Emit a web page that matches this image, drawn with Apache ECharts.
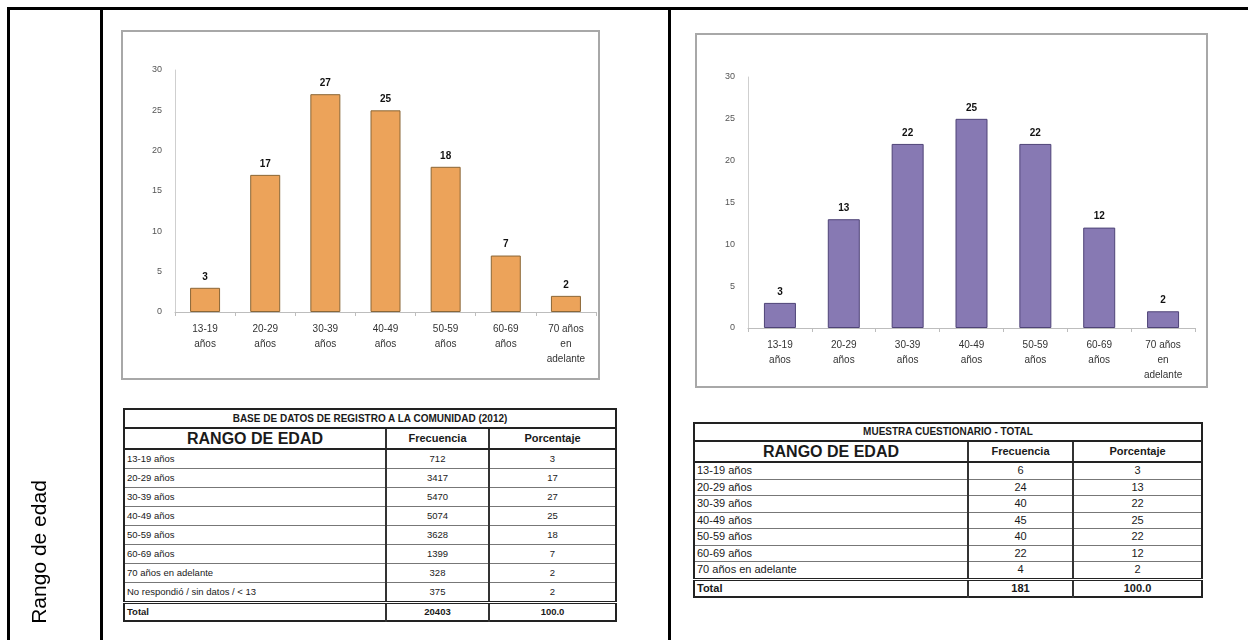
<!DOCTYPE html>
<html>
<head>
<meta charset="utf-8">
<script src="https://cdn.jsdelivr.net/npm/echarts@6/dist/echarts.min.js"></script>
<style>
  html, body { margin: 0; padding: 0; background: #fff; }
  #chart { position: absolute; left: 0; top: 0; width: 1248px; height: 640px; }
  .tbl {
    position: absolute; border-collapse: collapse; table-layout: fixed;
    font-family: "Liberation Sans", Arial, sans-serif; color: #1a1a1a;
    border: 2px solid #222; background: #fff;
  }
  .tbl td { padding: 0 2px; border: 1px solid #777; overflow: hidden; white-space: nowrap; line-height: 1; }
  .tbl td.c { text-align: center; }
  .tbl tr.title td { font-weight: bold; text-align: center; border-bottom: 2px solid #222; }
  .tbl tr.head td { font-weight: bold; text-align: center; border-bottom: 2px solid #222; }
  .tbl tr.total td { font-weight: bold; border-top: 3px double #222; }
  .tbl td.sep { border-right: 2px solid #333; }
</style>
</head>
<body>
<div id="chart"></div>
<script>
// Age ranges (axis labels and table labels)
const axisCategories = ['13-19\naños', '20-29\naños', '30-39\naños', '40-49\naños', '50-59\naños', '60-69\naños', '70 años\nen\nadelante'];
const tableCategories = ['13-19 años', '20-29 años', '30-39 años', '40-49 años', '50-59 años', '60-69 años', '70 años en adelante'];
const yTicks = [0, 5, 10, 15, 20, 25, 30];

// Base de datos de registro a la comunidad (2012)
const registroFreq = [712, 3417, 5470, 5074, 3628, 1399, 328];
const registroPct = [3, 17, 27, 25, 18, 7, 2];
const registroExtraLabel = 'No respondió / sin datos / < 13';
const registroExtraFreq = 375;
const registroExtraPct = 2;
const registroTotalFreq = 20403;

// Muestra cuestionario - total
const muestraFreq = [6, 24, 40, 45, 40, 22, 4];
const muestraPct = [3, 13, 22, 25, 22, 12, 2];
const muestraTotalFreq = 181;

const totalPctText = '100.0';
const FONT = '"Liberation Sans", Arial, sans-serif';

const chart = echarts.init(document.getElementById('chart'), null, { renderer: 'canvas' });

function xAxisFor(gridIndex) {
  return {
    type: 'category', gridIndex: gridIndex, data: axisCategories,
    axisLine: { lineStyle: { color: '#bdbdbd', width: 1 } },
    axisTick: { show: true, length: 4, lineStyle: { color: '#bdbdbd' } },
    axisLabel: { interval: 0, color: '#333', fontSize: 10, lineHeight: 15, margin: 10, fontFamily: FONT }
  };
}
function yAxisFor(gridIndex) {
  return {
    type: 'value', gridIndex: gridIndex,
    min: yTicks[0], max: yTicks[yTicks.length - 1], interval: yTicks[1] - yTicks[0],
    axisLine: { show: true, lineStyle: { color: '#cfcfcf', width: 1 } },
    axisTick: { show: false },
    splitLine: { show: false },
    axisLabel: { color: '#555', fontSize: 9, margin: 13, fontFamily: FONT }
  };
}
function barSeries(idx, data, color, border, width) {
  return {
    type: 'bar', xAxisIndex: idx, yAxisIndex: idx, data: data, barWidth: width,
    itemStyle: { color: color, borderColor: border, borderWidth: 1 },
    label: { show: true, position: 'top', distance: 6, color: '#111', fontWeight: 'bold', fontSize: 10, fontFamily: FONT },
    silent: true, animation: false
  };
}

const outer = [
  { type: 'rect', shape: { x: 7, y: 7, width: 1241, height: 3 }, style: { fill: '#000' } },
  { type: 'rect', shape: { x: 7, y: 7, width: 3, height: 633 }, style: { fill: '#000' } },
  { type: 'rect', shape: { x: 100, y: 7, width: 3, height: 633 }, style: { fill: '#000' } },
  { type: 'rect', shape: { x: 668, y: 7, width: 3, height: 633 }, style: { fill: '#000' } },
  { type: 'rect', shape: { x: 122, y: 31, width: 477, height: 348 }, style: { fill: 'none', stroke: '#a8a8a8', lineWidth: 2 } },
  { type: 'rect', shape: { x: 696, y: 34, width: 511, height: 353 }, style: { fill: 'none', stroke: '#a8a8a8', lineWidth: 2 } },
  { type: 'text', x: 40, y: 552, rotation: Math.PI / 2,
    style: { text: 'Rango de edad', font: '21px ' + FONT, fill: '#000', align: 'center', verticalAlign: 'middle' } }
];

chart.setOption({
  animation: false,
  backgroundColor: '#fff',
  grid: [
    { left: 175, top: 70, width: 421, height: 242 },
    { left: 748, top: 77, width: 447, height: 251 }
  ],
  xAxis: [xAxisFor(0), xAxisFor(1)],
  yAxis: [yAxisFor(0), yAxisFor(1)],
  series: [
    barSeries(0, registroPct, '#ECA35A', '#8a6636', 30),
    barSeries(1, muestraPct, '#8779B3', '#4e4377', 32)
  ],
  graphic: outer
});

// Frequency tables
function buildTable(cfg) {
  const t = document.createElement('table');
  t.className = 'tbl';
  t.style.left = cfg.left + 'px';
  t.style.top = cfg.top + 'px';
  t.style.width = cfg.widths.reduce((a, b) => a + b, 0) + 'px';
  let html = '<colgroup>' + cfg.widths.map(w => '<col style="width:' + w + 'px">').join('') + '</colgroup>';
  html += '<tr class="title"><td colspan="3" style="height:' + cfg.titleH + 'px;font-size:' + cfg.titleFs + 'px">' + cfg.title + '</td></tr>';
  html += '<tr class="head"><td class="sep" style="height:' + cfg.headH + 'px;font-size:16px">RANGO DE EDAD</td>' +
          '<td class="sep" style="font-size:' + cfg.headFs + 'px">Frecuencia</td><td style="font-size:' + cfg.headFs + 'px">Porcentaje</td></tr>';
  cfg.rows.forEach(r => {
    html += '<tr style="font-size:' + cfg.rowFs + 'px"><td class="sep" style="height:' + cfg.rowH + 'px">' + r[0] + '</td>' +
            '<td class="c sep">' + r[1] + '</td><td class="c">' + r[2] + '</td></tr>';
  });
  html += '<tr class="total" style="font-size:' + cfg.rowFs + 'px"><td class="sep" style="height:' + cfg.totalH + 'px">Total</td>' +
          '<td class="c sep">' + cfg.total[0] + '</td><td class="c">' + cfg.total[1] + '</td></tr>';
  t.innerHTML = html;
  document.body.appendChild(t);
}

const registroRows = tableCategories.map((c, i) => [c, registroFreq[i], registroPct[i]]);
registroRows.push([registroExtraLabel, registroExtraFreq, registroExtraPct]);
buildTable({
  left: 123, top: 408, widths: [262, 103, 127],
  title: 'BASE DE DATOS DE REGISTRO A LA COMUNIDAD (2012)', titleFs: 10, titleH: 17,
  headFs: 11, headH: 19, rowFs: 9.5, rowH: 18, totalH: 16,
  rows: registroRows, total: [registroTotalFreq, totalPctText]
});

const muestraRows = tableCategories.map((c, i) => [c, muestraFreq[i], muestraPct[i]]);
buildTable({
  left: 693, top: 422, widths: [274, 105, 129],
  title: 'MUESTRA CUESTIONARIO - TOTAL', titleFs: 10, titleH: 16,
  headFs: 11, headH: 19, rowFs: 11, rowH: 15.5, totalH: 15,
  rows: muestraRows, total: [muestraTotalFreq, totalPctText]
});
</script>
</body>
</html>
